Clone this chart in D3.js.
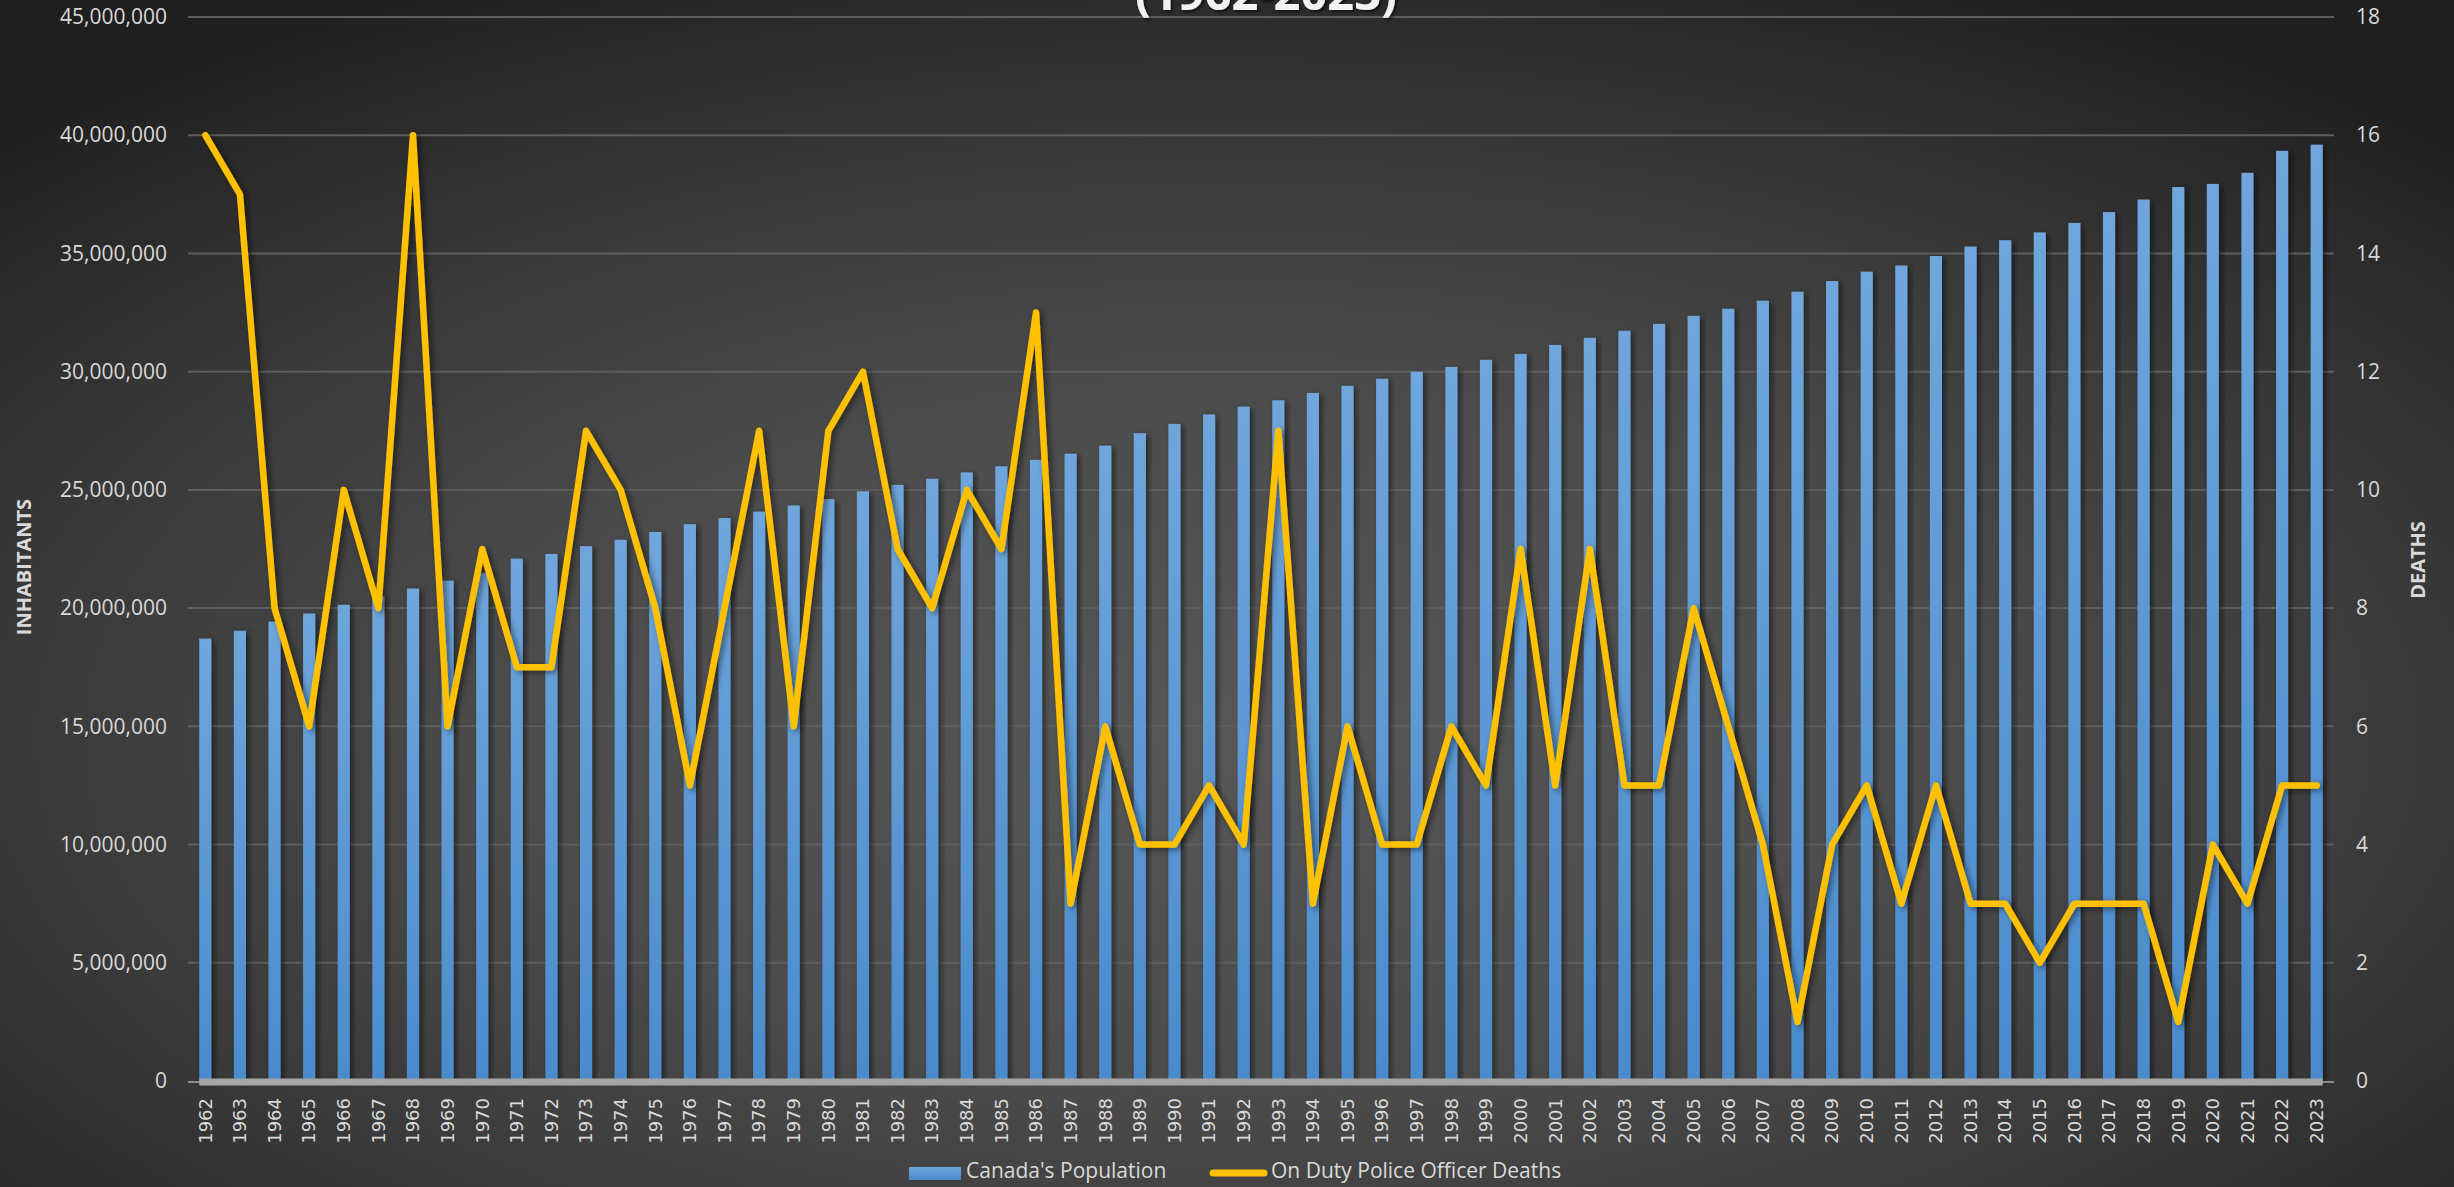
<!DOCTYPE html>
<html>
<head>
<meta charset="utf-8">
<script src="https://cdn.jsdelivr.net/npm/d3@7"></script>
<style>
  html, body { margin: 0; padding: 0; background: #2a2a2a; overflow: hidden; }
  svg { display: block; }
</style>
</head>
<body>
<div id="chart"></div>
<script>
// data
var years = d3.range(1962, 2024).map(String);

var population = [
  18.71, 19.04, 19.43, 19.77, 20.14, 20.50, 20.83, 21.16, 21.49, 22.09,
  22.29, 22.62, 22.89, 23.22, 23.55, 23.81, 24.08, 24.34, 24.61, 24.94,
  25.21, 25.47, 25.74, 26.00, 26.27, 26.53, 26.87, 27.40, 27.79, 28.19,
  28.52, 28.79, 29.10, 29.40, 29.70, 30.00, 30.20, 30.50, 30.75, 31.13,
  31.43, 31.73, 32.02, 32.36, 32.66, 33.00, 33.38, 33.83, 34.23, 34.49,
  34.89, 35.29, 35.56, 35.89, 36.29, 36.75, 37.28, 37.81, 37.94, 38.41,
  39.34, 39.60
].map(function(v) { return v * 1e6; });

var deaths = [
  16, 15, 8, 6, 10, 8, 16, 6, 9, 7,
  7, 11, 10, 8, 5, 8, 11, 6, 11, 12,
  9, 8, 10, 9, 13, 3, 6, 4, 4, 5,
  4, 11, 3, 6, 4, 4, 6, 5, 9, 5,
  9, 5, 5, 8, 6, 4, 1, 4, 5, 3,
  5, 3, 3, 2, 3, 3, 3, 1, 4, 3,
  5, 5
];

var leftTicks = d3.range(0, 45000001, 5000000);
var rightTicks = d3.range(0, 19, 2);

var W = 2454, H = 1187;
var plot = { left: 188, right: 2334, top: 17, bottom: 1081 };

var svg = d3.select("#chart").append("svg")
  .attr("width", W)
  .attr("height", H);

var defs = svg.append("defs");

// background
var bg = defs.append("radialGradient")
  .attr("id", "bg")
  .attr("cx", "0.5").attr("cy", "0.62").attr("r", "0.72");
bg.append("stop").attr("offset", "0%").attr("stop-color", "#575757");
bg.append("stop").attr("offset", "40%").attr("stop-color", "#4c4c4c");
bg.append("stop").attr("offset", "70%").attr("stop-color", "#383838");
bg.append("stop").attr("offset", "100%").attr("stop-color", "#1f1f1f");

var barGrad = defs.append("linearGradient")
  .attr("id", "barGrad")
  .attr("x1", 0).attr("y1", 0).attr("x2", 0).attr("y2", 1);
barGrad.append("stop").attr("offset", "0%").attr("stop-color", "#6fa6dc");
barGrad.append("stop").attr("offset", "100%").attr("stop-color", "#4a8bcd");

var shadow = defs.append("filter")
  .attr("id", "shadow")
  .attr("x", "-50%").attr("y", "-5%").attr("width", "200%").attr("height", "110%");
shadow.append("feDropShadow")
  .attr("dx", 3).attr("dy", 2).attr("stdDeviation", 3)
  .attr("flood-color", "#000").attr("flood-opacity", 0.5);

var textShadow = defs.append("filter").attr("id", "tshadow");
textShadow.append("feDropShadow")
  .attr("dx", 2).attr("dy", 2).attr("stdDeviation", 1.5)
  .attr("flood-color", "#000").attr("flood-opacity", 0.6);

svg.append("rect")
  .attr("width", W).attr("height", H)
  .attr("fill", "url(#bg)");

// scales
var x = d3.scaleBand()
  .domain(years)
  .range([plot.left, plot.right])
  .paddingInner(0.65)
  .paddingOuter(0.325);

var yL = d3.scaleLinear()
  .domain([0, 45000000])
  .range([plot.bottom, plot.top]);

var yR = d3.scaleLinear()
  .domain([0, 18])
  .range([plot.bottom, plot.top]);

// gridlines
svg.append("g")
  .selectAll("line")
  .data(leftTicks.slice(1))
  .enter().append("line")
  .attr("x1", plot.left).attr("x2", plot.right)
  .attr("y1", function(d) { return yL(d); })
  .attr("y2", function(d) { return yL(d); })
  .attr("stroke", "#5e5e5e")
  .attr("stroke-width", 2);

// left axis
var leftAxis = svg.append("g")
  .attr("transform", "translate(" + plot.left + ",0)")
  .call(d3.axisLeft(yL).tickValues(leftTicks).tickFormat(d3.format(",")).tickSize(0).tickPadding(21));
leftAxis.select(".domain").remove();
leftAxis.selectAll("text")
  .attr("fill", "#d9d9d9")
  .style("font-family", "Open Sans")
  .style("font-size", "21px");

// right axis
var rightAxis = svg.append("g")
  .attr("transform", "translate(" + plot.right + ",0)")
  .call(d3.axisRight(yR).tickValues(rightTicks).tickSize(0).tickPadding(22));
rightAxis.select(".domain").remove();
rightAxis.selectAll("text")
  .attr("fill", "#d9d9d9")
  .style("font-family", "Open Sans")
  .style("font-size", "21px");

// bars
svg.append("g")
  .selectAll("rect")
  .data(population)
  .enter().append("rect")
  .attr("x", function(d, i) { return x(years[i]); })
  .attr("y", function(d) { return yL(d); })
  .attr("width", x.bandwidth())
  .attr("height", function(d) { return yL(0) - yL(d); })
  .attr("fill", "url(#barGrad)")
  .attr("filter", "url(#shadow)");

// baseline: thin line across, thick over the bars
svg.append("line")
  .attr("x1", plot.left).attr("x2", plot.right)
  .attr("y1", plot.bottom + 1).attr("y2", plot.bottom + 1)
  .attr("stroke", "#8c8c8c").attr("stroke-width", 2);
svg.append("line")
  .attr("x1", x(years[0])).attr("x2", x(years[years.length - 1]) + x.bandwidth())
  .attr("y1", plot.bottom + 1).attr("y2", plot.bottom + 1)
  .attr("stroke", "#a6a6a6").attr("stroke-width", 7);

// x labels
svg.append("g")
  .selectAll("text")
  .data(years)
  .enter().append("text")
  .text(function(d) { return d; })
  .attr("transform", function(d) {
    return "translate(" + (x(d) + x.bandwidth() / 2) + "," + 1098 + ") rotate(-90)";
  })
  .attr("text-anchor", "end")
  .attr("dy", "0.35em")
  .attr("fill", "#d9d9d9")
  .style("font-family", "DejaVu Sans")
  .style("font-size", "18px");

// deaths line
var line = d3.line()
  .x(function(d, i) { return x(years[i]) + x.bandwidth() / 2; })
  .y(function(d) { return yR(d); });

svg.append("path")
  .datum(deaths)
  .attr("d", line)
  .attr("fill", "none")
  .attr("stroke", "#ffc000")
  .attr("stroke-width", 6.5)
  .attr("stroke-linejoin", "round")
  .attr("stroke-linecap", "round")
  .attr("filter", "url(#shadow)");

// axis titles
svg.append("text")
  .text("INHABITANTS")
  .attr("transform", "translate(24,567) rotate(-90)")
  .attr("text-anchor", "middle")
  .attr("dy", "0.35em")
  .attr("fill", "#d9d9d9")
  .style("font-family", "Open Sans")
  .style("font-weight", "bold")
  .style("font-size", "20px");

svg.append("text")
  .text("DEATHS")
  .attr("transform", "translate(2418,560) rotate(-90)")
  .attr("text-anchor", "middle")
  .attr("dy", "0.35em")
  .attr("fill", "#d9d9d9")
  .style("font-family", "Open Sans")
  .style("font-weight", "bold")
  .style("font-size", "20px");

// title (cut off at the top, as in the source)
svg.append("text")
  .text("(1962-2023)")
  .attr("x", 1266)
  .attr("y", 10)
  .attr("text-anchor", "middle")
  .attr("fill", "#f2f2f2")
  .attr("filter", "url(#tshadow)")
  .style("font-family", "Open Sans")
  .style("font-weight", "bold")
  .style("font-size", "47px");

// legend
var legend = svg.append("g");
legend.append("rect")
  .attr("x", 909).attr("y", 1167)
  .attr("width", 52).attr("height", 13)
  .attr("fill", "url(#barGrad)");
legend.append("text")
  .text("Canada's Population")
  .attr("x", 966).attr("y", 1178)
  .attr("fill", "#d9d9d9")
  .style("font-family", "Open Sans")
  .style("font-size", "21px");
legend.append("line")
  .attr("x1", 1213).attr("x2", 1264)
  .attr("y1", 1173).attr("y2", 1173)
  .attr("stroke", "#ffc000")
  .attr("stroke-width", 7)
  .attr("stroke-linecap", "round");
legend.append("text")
  .text("On Duty Police Officer Deaths")
  .attr("x", 1271).attr("y", 1178)
  .attr("fill", "#d9d9d9")
  .style("font-family", "Open Sans")
  .style("font-size", "21px");
</script>
</body>
</html>
